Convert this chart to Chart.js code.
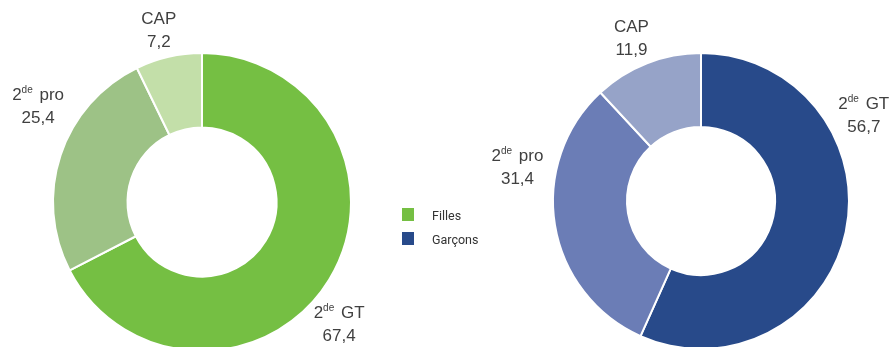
<!DOCTYPE html>
<html>
<head>
<meta charset="utf-8">
<script src="https://cdn.jsdelivr.net/npm/chart.js@4"></script>
<style>
  html, body { margin: 0; padding: 0; background: #fff; }
  body { width: 896px; height: 347px; position: relative; overflow: hidden; font-family: "Liberation Sans", Arial, sans-serif; }
  .box { position: absolute; width: 500px; height: 400px; }
  #legend { position: absolute; left: 402px; top: 208px; font-family: Roboto, "Liberation Sans", sans-serif; font-size: 12.5px; color: #333; z-index: 2; }
  #legend div { height: 24px; display: flex; align-items: flex-start; }
  #legend span.sw { width: 12px; height: 13px; margin-right: 18px; display: inline-block; }
</style>
</head>
<body>
<div class="box" style="left:-48px;top:2px"><canvas id="girls"></canvas></div>
<div class="box" style="left:451px;top:1px"><canvas id="boys"></canvas></div>
<div id="legend"></div>
<script>
// data
const categories = ["2de GT", "2de pro", "CAP"];
const seriesNames = ["Filles", "Garçons"];
const girls = [67.4, 25.4, 7.2];
const boys = [56.7, 31.4, 11.9];

const girlColors = ["#75BF43", "#9DC286", "#C3DFA9"];
const boyColors = ["#284A8A", "#6B7DB6", "#96A3C8"];

// label placement relative to the doughnut centre, in outer radii
const girlLabelPos = [[0.92, 0.82], [-1.10, -0.64], [-0.29, -1.15]];
const boyLabelPos = [[1.10, -0.58], [-1.24, -0.23], [-0.47, -1.10]];

const fmt = v => v.toFixed(1).replace(".", ",");
const FONT = "17px 'Liberation Sans', Arial, sans-serif";
const SUP = "10px 'Liberation Sans', Arial, sans-serif";

function drawName(ctx, name, cx, cy) {
    const m = name.match(/^(\d)(de)(.*)$/);
    ctx.textBaseline = "middle";
    ctx.textAlign = "left";
    ctx.font = FONT;
    if (!m) {
        const w = ctx.measureText(name).width;
        ctx.fillText(name, cx - w / 2, cy);
        return;
    }
    const w1 = ctx.measureText(m[1]).width;
    const w3 = ctx.measureText(m[3]).width + 2;
    ctx.font = SUP;
    const w2 = ctx.measureText(m[2]).width;
    let x = cx - (w1 + w2 + w3) / 2;
    ctx.font = FONT;
    ctx.fillText(m[1], x, cy);
    x += w1;
    ctx.font = SUP;
    ctx.fillText(m[2], x, cy - 5);
    x += w2 + 2;
    ctx.font = FONT;
    ctx.fillText(m[3], x, cy);
}

const outsideLabels = {
    id: "outsideLabels",
    afterDatasetsDraw(chart, args, opts) {
        const ctx = chart.ctx;
        const meta = chart.getDatasetMeta(0);
        const values = chart.data.datasets[0].data;
        ctx.save();
        ctx.fillStyle = "#404040";
        meta.data.forEach((arc, i) => {
            const p = opts.pos[i];
            const x = arc.x + p[0] * arc.outerRadius;
            const y = arc.y + p[1] * arc.outerRadius;
            drawName(ctx, chart.data.labels[i], x, y - 11);
            ctx.font = FONT;
            ctx.textAlign = "center";
            ctx.fillText(fmt(values[i]), x, y + 12);
        });
        ctx.restore();
    }
};

function makeDoughnut(id, values, colors, pos, pad) {
    const cv = document.getElementById(id);
    cv.width = 500;
    cv.height = 400;
    new Chart(cv, {
        type: "doughnut",
        data: {
            labels: categories,
            datasets: [{
                data: values,
                backgroundColor: colors,
                borderColor: "#fff",
                borderWidth: 2
            }]
        },
        options: {
            responsive: false,
            animation: false,
            cutout: "50%",
            layout: { padding: { top: pad, bottom: pad, left: pad + 50, right: pad + 50 } },
            plugins: {
                legend: { display: false },
                tooltip: { enabled: false },
                outsideLabels: { pos: pos }
            }
        },
        plugins: [outsideLabels]
    });
}

makeDoughnut("girls", girls, girlColors, girlLabelPos, 50);
makeDoughnut("boys", boys, boyColors, boyLabelPos, 51);

// legend
const legend = document.getElementById("legend");
seriesNames.forEach((name, i) => {
    const row = document.createElement("div");
    const sw = document.createElement("span");
    sw.className = "sw";
    sw.style.background = i === 0 ? girlColors[0] : boyColors[0];
    row.appendChild(sw);
    row.appendChild(document.createTextNode(name));
    legend.appendChild(row);
});
</script>
</body>
</html>
